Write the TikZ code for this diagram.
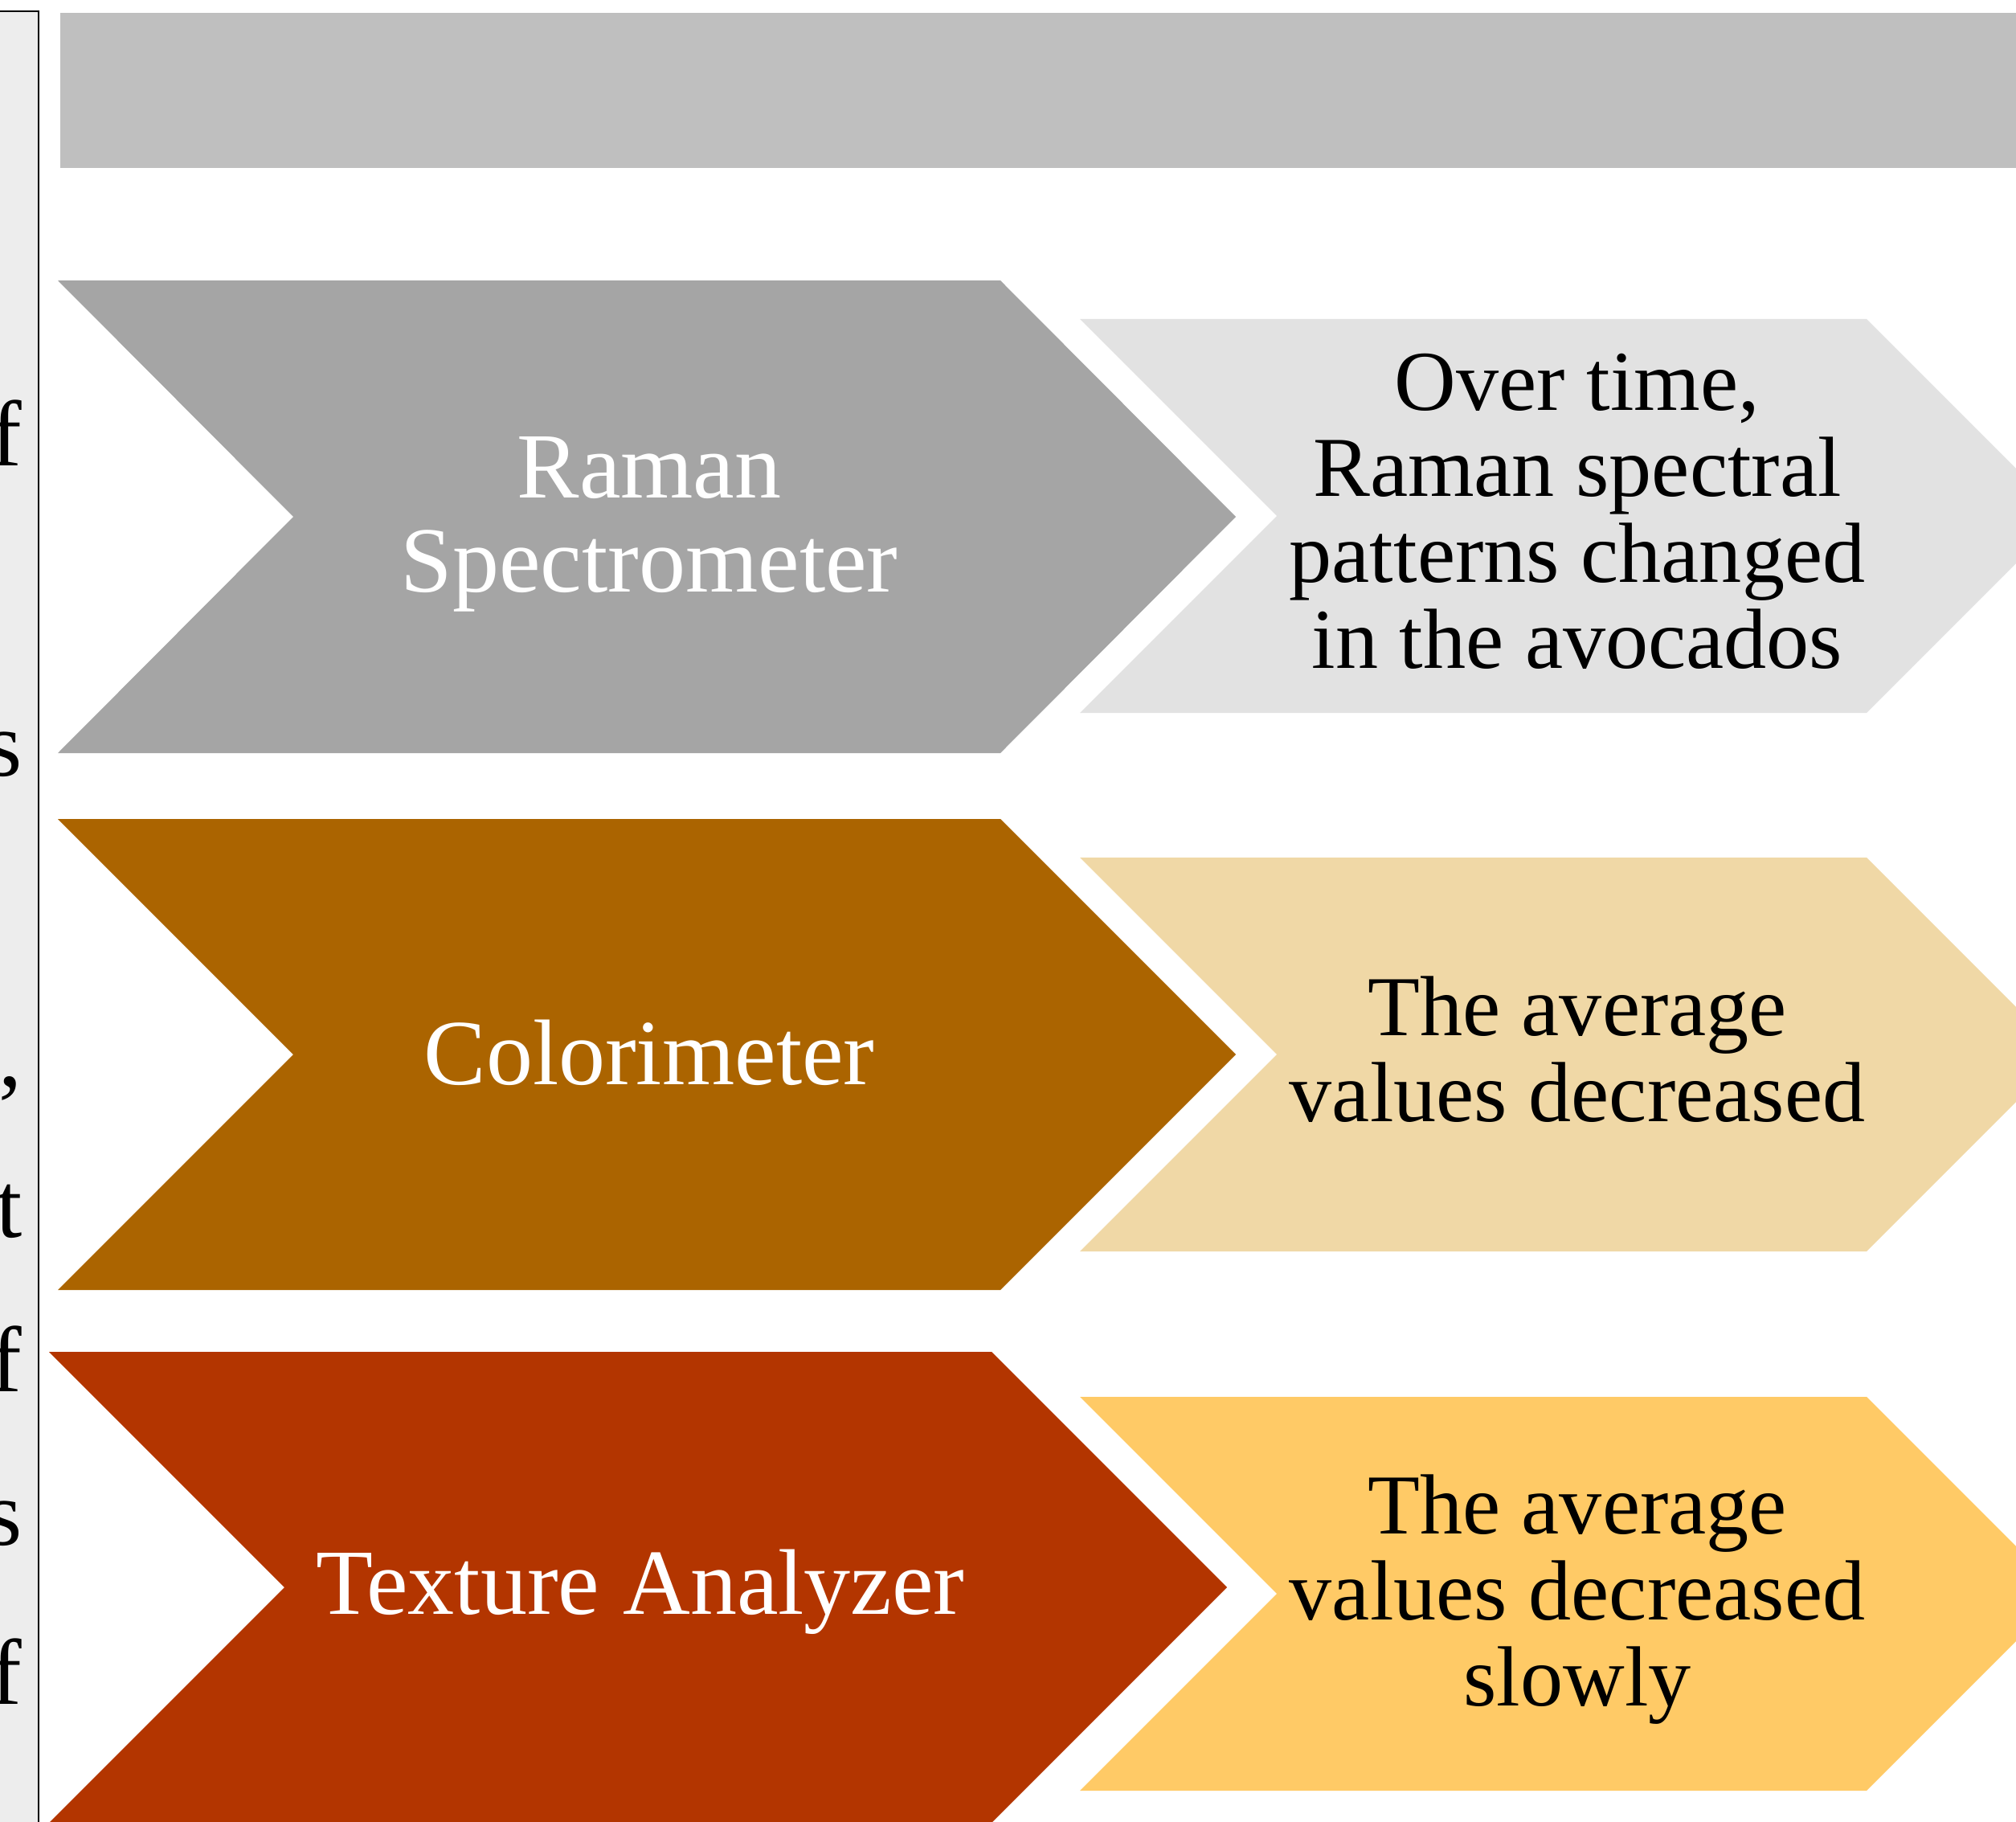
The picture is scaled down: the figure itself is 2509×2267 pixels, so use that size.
\documentclass[tikz,border=0pt]{standalone}
\usepackage{fontspec}
\setmainfont{Liberation Serif}
\definecolor{panelgray}{HTML}{EDEDED}
\definecolor{topbar}{HTML}{BFBFBF}
\definecolor{ramanD}{HTML}{A5A5A5}
\definecolor{ramanL}{HTML}{E2E2E2}
\definecolor{colD}{HTML}{AB6400}
\definecolor{colL}{HTML}{F0D8A6}
\definecolor{texD}{HTML}{B33500}
\definecolor{texL}{HTML}{FFCA66}
\newcommand\leftfnt{\fontsize{33}{33.3}\selectfont}
\newcommand\rightfnt{\fontsize{30.2}{30.4}\selectfont}
\begin{document}
\begin{tikzpicture}[x=0.01cm,y=-0.01cm,
  lefttext/.style={text=white,align=center,inner sep=0pt,font=\leftfnt},
  righttext/.style={text=black,align=center,inner sep=0pt,font=\rightfnt},
  sidechar/.style={text=black,inner sep=0pt,anchor=base east,font=\leftfnt}]
\useasboundingbox (0,0) rectangle (2509,2267);
\clip (0,0) rectangle (2509,2267);
% left panel (cut off)
\filldraw[fill=panelgray,draw=black,line width=0.8pt] (-300,14) rectangle (48,2500);
\node[sidechar] (c1) at (28,579) {f};
\node[sidechar] (c2) at (28,965) {s};
\node[sidechar] (c3) at (28,1351) {,};
\node[sidechar] (c4) at (28,1539) {t};
\node[sidechar] (c5) at (28,1731) {f};
\node[sidechar] (c6) at (28,1922) {s};
\node[sidechar] (c7) at (28,2120) {f};
% top bar
\fill[topbar] (75,16) rectangle (2700,209);
% dark chevrons
\fill[ramanD] (72,349) -- (1245,349) -- (1538,643) -- (1245,937) -- (72,937) -- (365,643) -- cycle;
\fill[colD] (72,1019) -- (1245,1019) -- (1538,1312) -- (1245,1605) -- (72,1605) -- (365,1312) -- cycle;
\fill[texD] (61,1682) -- (1234,1682) -- (1527,1975) -- (1234,2268) -- (61,2268) -- (354,1975) -- cycle;
% light chevrons
\fill[ramanL] (1344,397) -- (2323,397) -- (2568,642) -- (2323,887) -- (1344,887) -- (1589,642) -- cycle;
\fill[colL] (1344,1067) -- (2323,1067) -- (2568,1312) -- (2323,1557) -- (1344,1557) -- (1589,1312) -- cycle;
\fill[texL] (1344,1738) -- (2323,1738) -- (2568,1983) -- (2323,2228) -- (1344,2228) -- (1589,1983) -- cycle;
% texts
\node[lefttext] (raman) at (808,652) {Raman\\Spectrometer};
\node[lefttext] (color) at (808,1310) {Colorimeter};
\node[lefttext] (texture) at (797,1981) {Texture Analyzer};
\node[righttext] (ramanres) at (1963,636) {Over time,\\Raman spectral\\patterns changed\\in the avocados};
\node[righttext] (colorres) at (1963,1306) {The average\\values decreased};
\node[righttext] (texres) at (1963,1990) {The average\\values decreased\\slowly};
\end{tikzpicture}
\end{document}
